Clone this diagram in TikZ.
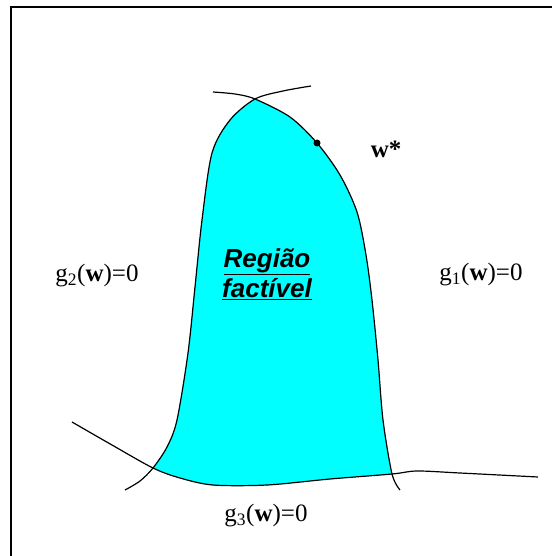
\documentclass[tikz,border=0pt]{standalone}
\usepackage{fontspec}
\setmainfont{Liberation Serif}
\newfontfamily\rotulofont{Liberation Sans}
\usepackage{xcolor}
\definecolor{regiaociano}{RGB}{0, 255, 255}
\usetikzlibrary{positioning}

\begin{document}
\begin{tikzpicture}[x=1pt, y=-1pt,
        curva/.style={draw=black, line width=1.2pt},
        regiao/.style={fill=regiaociano},
        restricao/.style={font=\fontsize{25}{28}\selectfont, inner sep=0pt},
        rotulo/.style={font=\rotulofont\bfseries\itshape\fontsize{26}{30}\selectfont, align=center, inner sep=0pt},
        ponto/.style={circle, fill=black, inner sep=0pt, minimum size=7pt}]
        \useasboundingbox (0,0) rectangle (552,556);

        % Moldura (so se ve o lado esquerdo e o de cima)
        \draw [line width=2pt] (11,556) -- (11,7) -- (552,7);

        % Regiao factivel preenchida
        \path [regiao] plot [smooth] coordinates {(255,99) (290,117) (317,143) (340,175) (357,212) (366,255) (372,300) (378,360) (383,420) (392,474)}
            -- plot [smooth] coordinates {(392,474) (330,479) (267,485) (213,485) (180,478) (153,468)}
            -- plot [smooth] coordinates {(153,468) (167,447) (177,420) (188,353) (195,287) (202,220) (212,153) (230,120) (255,99)}
            -- cycle;

        % Curvas das restricoes
        \draw [curva] plot [smooth] coordinates {(213,92) (235,94) (255,99) (290,117) (317,143) (340,175) (357,212) (366,255) (372,300) (378,360) (383,420) (392,474) (400,490)};
        \draw [curva] plot [smooth] coordinates {(311,86) (283,91) (255,99) (230,120) (212,153) (202,220) (195,287) (188,353) (177,420) (167,447) (153,468) (140,481) (125,490)};
        \draw [curva] plot [smooth] coordinates {(72,422) (112,445) (153,468) (180,478) (213,485) (267,485) (330,479) (392,474) (417,471) (460,473) (538,477)};

        % Ponto otimo
        \node [ponto] (wopt) at (317,143) {};
        \node [restricao, font=\fontsize{25}{28}\selectfont\bfseries, right=50pt of wopt, yshift=-6pt] (wlabel) {w*};

        % Rotulos
        \node [rotulo] (factivel) at (267,274) {\underline{Região}\\\underline{factível}};
        \node [restricao] (g2) at (97,276) {g\textsubscript{2}(\textbf{w})=0};
        \node [restricao] (g1) at (481,275) {g\textsubscript{1}(\textbf{w})=0};
        \node [restricao] (g3) at (266,516) {g\textsubscript{3}(\textbf{w})=0};
    \end{tikzpicture}
\end{document}
